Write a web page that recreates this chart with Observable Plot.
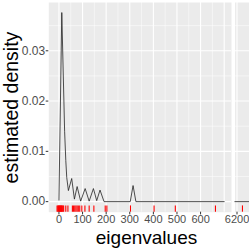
<!DOCTYPE html>
<html><head><meta charset="utf-8">
<script src="https://cdn.jsdelivr.net/npm/d3@7"></script>
<script src="https://cdn.jsdelivr.net/npm/@observablehq/plot@0.6"></script>
<style>
html,body{margin:0;padding:0;background:#fff;overflow:hidden;width:249px;height:249px}
#wrap{position:relative;width:249px;height:249px;overflow:hidden;font-family:"Liberation Sans",Arial,sans-serif}
#wrap svg{position:absolute;top:0;overflow:visible}
</style></head><body><div id="wrap"></div>
<script>
// density curve
const densityX = [0, 12, 24, 29, 33, 40, 54, 65.5, 77, 92, 111, 128, 146, 160, 174, 191, 302, 314, 326, 700];
const densityY = [0.0003, 0.0376, 0.0140, 0.0082, 0.0048, 0.0022, 0.0046, 0.0005, 0.0030, 0.0001, 0.0026, 0.0001, 0.0026, 0.0002, 0.0023, 0, 0, 0.0032, 0, 0];
const densityRightX = [6100, 6400];
const densityRightY = [0, 0];
// eigenvalues (rug)
const rugValues = [-8, -5, -2, 0.5, 2, 4, 6, 8, 10, 12, 14, 17, 20, 29, 38, 57, 62, 67, 72, 77, 82, 88, 97, 110, 128, 148, 196, 203, 303, 403, 493, 663, 6223];
// ticks
const yTicks = [0, 0.01, 0.02, 0.03];
const yMinor = [0.005, 0.015, 0.025, 0.035];
const xTicksLeft = [0, 100, 200, 300, 400, 500, 600];
const xGridLeft = [0, 100, 200, 300, 400, 500, 600, 700];
const xMinorLeft = [50, 150, 250, 350, 450, 550, 650];
const xTicksRight = [6200];

const yDom = [-0.0021, 0.0396];
const rugTop = yDom[0] + 0.03 * (yDom[1] - yDom[0]);
const dens = densityX.map((x, i) => ({x, y: densityY[i]}));
const densR = densityRightX.map((x, i) => ({x, y: densityRightY[i]}));
const font = '"Liberation Sans", Arial, sans-serif';

const common = (xDomain, ml, mr, width) => ({
  width, height: 226,
  marginLeft: ml, marginRight: mr, marginTop: 2, marginBottom: 14.3,
  x: {domain: xDomain},
  y: {domain: yDom},
  style: {fontFamily: font, fontSize: "11px", background: "transparent", color: "#4D4D4D", overflow: "visible"}
});

const left = Plot.plot({
  ...common([-43, 731], 48.3, 2, 233),
  marks: [
    Plot.frame({fill: "#EBEBEB", stroke: null}),
    Plot.ruleY(yMinor, {stroke: "white", strokeWidth: 0.5}),
    Plot.ruleX(xMinorLeft, {stroke: "white", strokeWidth: 0.5}),
    Plot.ruleY(yTicks, {stroke: "white", strokeWidth: 1.1}),
    Plot.ruleX(xGridLeft, {stroke: "white", strokeWidth: 1.1}),
    Plot.line(dens, {x: "x", y: "y", stroke: "#222", strokeWidth: 0.8}),
    Plot.ruleX(rugValues.filter(v => v < 731), {x: d => d, y1: yDom[0], y2: rugTop, stroke: "#FF0000", strokeWidth: 1.1}),
    Plot.axisY({ticks: yTicks, tickFormat: d3.format(".2f"), tickSize: 2.6, tickPadding: 1, label: null, fill: "#4D4D4D", stroke: "#333", fontSize: 12}),
    Plot.axisX({ticks: xTicksLeft, tickFormat: d3.format("d"), tickSize: 2.7, tickPadding: 0.3, label: null, fill: "#4D4D4D", stroke: "#333", fontSize: 11})
  ]
});
left.style.left = "0px";

const right = Plot.plot({
  ...common([6191.5, 6350], 2.5, 0, 40),
  marks: [
    Plot.frame({fill: "#EBEBEB", stroke: null}),
    Plot.ruleY(yMinor, {stroke: "white", strokeWidth: 0.5}),
    Plot.ruleY(yTicks, {stroke: "white", strokeWidth: 1.1}),
    Plot.ruleX(xTicksRight, {stroke: "white", strokeWidth: 1.1}),
    Plot.line(densR, {x: "x", y: "y", stroke: "#222", strokeWidth: 0.8, clip: true}),
    Plot.ruleX(rugValues.filter(v => v > 6000), {x: d => d, y1: yDom[0], y2: rugTop, stroke: "#FF0000", strokeWidth: 1.1}),
    Plot.axisY({ticks: [], label: null}),
    Plot.axisX({ticks: xTicksRight, tickFormat: d3.format("d"), tickSize: 2.7, tickPadding: 0.3, label: null, fill: "#4D4D4D", stroke: "#333", fontSize: 11})
  ]
});
right.style.left = "232px";

const wrap = document.getElementById("wrap");
wrap.appendChild(left);
wrap.appendChild(right);

// axis titles
const svg = d3.select(wrap).append("svg").attr("width", 249).attr("height", 249).style("left", "0px");
svg.append("text").attr("transform", "translate(18,107.5) rotate(-90)")
  .attr("text-anchor", "middle").attr("font-family", font).attr("font-size", 19.5).attr("fill", "#000")
  .text("estimated density");
svg.append("text").attr("x", 146.5).attr("y", 243.5)
  .attr("text-anchor", "middle").attr("font-family", font).attr("font-size", 19).attr("fill", "#000")
  .text("eigenvalues");
</script></body></html>
